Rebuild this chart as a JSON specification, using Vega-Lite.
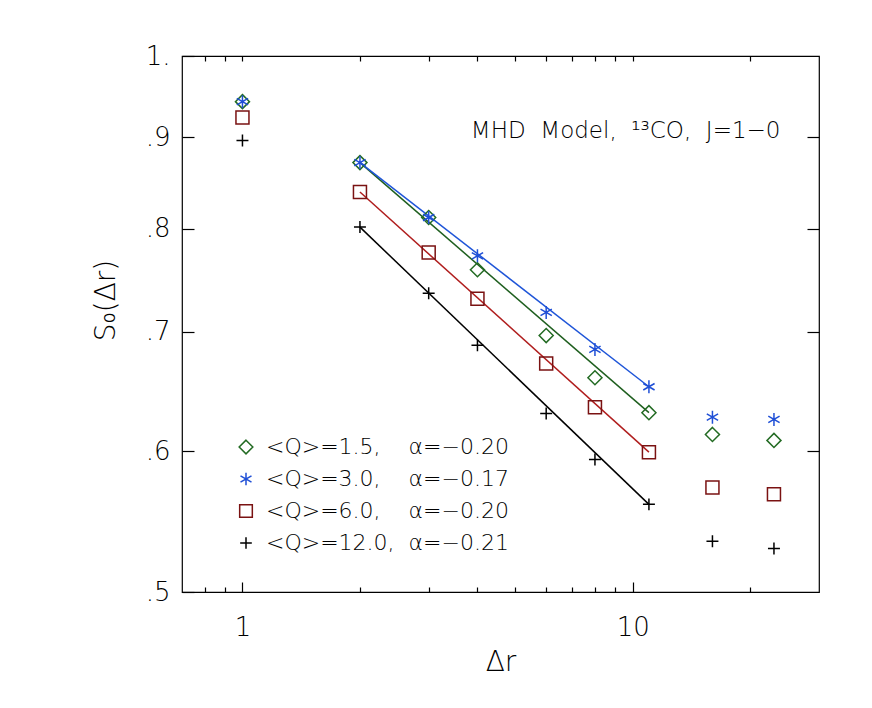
{
  "$schema": "https://vega.github.io/schema/vega-lite/v6.json",
  "autosize": "none",
  "width": 637,
  "height": 536,
  "padding": {"left": 182, "top": 56, "right": 53, "bottom": 116},
  "background": "white",
  "config": {
    "font": "DejaVu Sans",
    "view": {"stroke": "#000", "strokeWidth": 1.2},
    "axis": {"grid": false, "domain": false, "tickColor": "#000", "labelColor": "#000", "titleColor": "#000", "tickWidth": 1.2, "labelFont": "DejaVu Sans", "titleFont": "DejaVu Sans", "titleFontWeight": 200, "labelFontWeight": 200}
  },
  "datasets": {
    "points": [
      {"series": "<Q>=1.5,\u00a0\u00a0\u00a0\u00a0α=−0.20", "dr": 1, "s": 0.9427},
      {"series": "<Q>=1.5,\u00a0\u00a0\u00a0\u00a0α=−0.20", "dr": 2, "s": 0.8712},
      {"series": "<Q>=1.5,\u00a0\u00a0\u00a0\u00a0α=−0.20", "dr": 3, "s": 0.8115},
      {"series": "<Q>=1.5,\u00a0\u00a0\u00a0\u00a0α=−0.20", "dr": 4, "s": 0.7585},
      {"series": "<Q>=1.5,\u00a0\u00a0\u00a0\u00a0α=−0.20", "dr": 6, "s": 0.6966},
      {"series": "<Q>=1.5,\u00a0\u00a0\u00a0\u00a0α=−0.20", "dr": 8, "s": 0.6596},
      {"series": "<Q>=1.5,\u00a0\u00a0\u00a0\u00a0α=−0.20", "dr": 11, "s": 0.6305},
      {"series": "<Q>=1.5,\u00a0\u00a0\u00a0\u00a0α=−0.20", "dr": 16, "s": 0.6130},
      {"series": "<Q>=1.5,\u00a0\u00a0\u00a0\u00a0α=−0.20", "dr": 23, "s": 0.6083},
      {"series": "<Q>=3.0,\u00a0\u00a0\u00a0\u00a0α=−0.17", "dr": 1, "s": 0.9427},
      {"series": "<Q>=3.0,\u00a0\u00a0\u00a0\u00a0α=−0.17", "dr": 2, "s": 0.8712},
      {"series": "<Q>=3.0,\u00a0\u00a0\u00a0\u00a0α=−0.17", "dr": 3, "s": 0.8115},
      {"series": "<Q>=3.0,\u00a0\u00a0\u00a0\u00a0α=−0.17", "dr": 4, "s": 0.7723},
      {"series": "<Q>=3.0,\u00a0\u00a0\u00a0\u00a0α=−0.17", "dr": 6, "s": 0.7178},
      {"series": "<Q>=3.0,\u00a0\u00a0\u00a0\u00a0α=−0.17", "dr": 8, "s": 0.6842},
      {"series": "<Q>=3.0,\u00a0\u00a0\u00a0\u00a0α=−0.17", "dr": 11, "s": 0.6520},
      {"series": "<Q>=3.0,\u00a0\u00a0\u00a0\u00a0α=−0.17", "dr": 16, "s": 0.6268},
      {"series": "<Q>=3.0,\u00a0\u00a0\u00a0\u00a0α=−0.17", "dr": 23, "s": 0.6250},
      {"series": "<Q>=6.0,\u00a0\u00a0\u00a0\u00a0α=−0.20", "dr": 1, "s": 0.9235},
      {"series": "<Q>=6.0,\u00a0\u00a0\u00a0\u00a0α=−0.20", "dr": 2, "s": 0.8387},
      {"series": "<Q>=6.0,\u00a0\u00a0\u00a0\u00a0α=−0.20", "dr": 3, "s": 0.7756},
      {"series": "<Q>=6.0,\u00a0\u00a0\u00a0\u00a0α=−0.20", "dr": 4, "s": 0.7306},
      {"series": "<Q>=6.0,\u00a0\u00a0\u00a0\u00a0α=−0.20", "dr": 6, "s": 0.6718},
      {"series": "<Q>=6.0,\u00a0\u00a0\u00a0\u00a0α=−0.20", "dr": 8, "s": 0.6350},
      {"series": "<Q>=6.0,\u00a0\u00a0\u00a0\u00a0α=−0.20", "dr": 11, "s": 0.5991},
      {"series": "<Q>=6.0,\u00a0\u00a0\u00a0\u00a0α=−0.20", "dr": 16, "s": 0.5723},
      {"series": "<Q>=6.0,\u00a0\u00a0\u00a0\u00a0α=−0.20", "dr": 23, "s": 0.5673},
      {"series": "<Q>=12.0,\u00a0\u00a0α=−0.21", "dr": 1, "s": 0.8965},
      {"series": "<Q>=12.0,\u00a0\u00a0α=−0.21", "dr": 2, "s": 0.8015},
      {"series": "<Q>=12.0,\u00a0\u00a0α=−0.21", "dr": 3, "s": 0.7357},
      {"series": "<Q>=12.0,\u00a0\u00a0α=−0.21", "dr": 4, "s": 0.6880},
      {"series": "<Q>=12.0,\u00a0\u00a0α=−0.21", "dr": 6, "s": 0.6299},
      {"series": "<Q>=12.0,\u00a0\u00a0α=−0.21", "dr": 8, "s": 0.5934},
      {"series": "<Q>=12.0,\u00a0\u00a0α=−0.21", "dr": 11, "s": 0.5600},
      {"series": "<Q>=12.0,\u00a0\u00a0α=−0.21", "dr": 16, "s": 0.5339},
      {"series": "<Q>=12.0,\u00a0\u00a0α=−0.21", "dr": 23, "s": 0.5289}
    ],
    "fits": [
      {"series": "<Q>=1.5,\u00a0\u00a0\u00a0\u00a0α=−0.20", "dr": 2, "s": 0.8712},
      {"series": "<Q>=1.5,\u00a0\u00a0\u00a0\u00a0α=−0.20", "dr": 11, "s": 0.6305},
      {"series": "<Q>=3.0,\u00a0\u00a0\u00a0\u00a0α=−0.17", "dr": 2, "s": 0.8712},
      {"series": "<Q>=3.0,\u00a0\u00a0\u00a0\u00a0α=−0.17", "dr": 11, "s": 0.6520},
      {"series": "<Q>=6.0,\u00a0\u00a0\u00a0\u00a0α=−0.20", "dr": 2, "s": 0.8387},
      {"series": "<Q>=6.0,\u00a0\u00a0\u00a0\u00a0α=−0.20", "dr": 11, "s": 0.5991},
      {"series": "<Q>=12.0,\u00a0\u00a0α=−0.21", "dr": 2, "s": 0.8015},
      {"series": "<Q>=12.0,\u00a0\u00a0α=−0.21", "dr": 11, "s": 0.5600}
    ]
  },
  "layer": [
    {
      "data": {"name": "fits"},
      "mark": {"type": "line", "strokeWidth": 1.5},
      "encoding": {
        "x": {"field": "dr", "type": "quantitative",
              "scale": {"type": "log", "domain": [0.7, 30], "nice": false},
              "axis": {"orient": "bottom", "values": [0.8, 0.9, 2, 3, 4, 5, 6, 7, 8, 9, 20], "tickSize": -5, "labels": false, "title": null}},
        "y": {"field": "s", "type": "quantitative",
              "scale": {"type": "log", "domain": [0.5, 1.0], "nice": false},
              "axis": {"orient": "right", "values": [0.6, 0.7, 0.8, 0.9], "tickSize": -12, "labels": false, "title": null}},
        "color": {"field": "series", "type": "nominal",
                  "scale": {"domain": ["<Q>=1.5,\u00a0\u00a0\u00a0\u00a0α=−0.20", "<Q>=3.0,\u00a0\u00a0\u00a0\u00a0α=−0.17", "<Q>=6.0,\u00a0\u00a0\u00a0\u00a0α=−0.20", "<Q>=12.0,\u00a0\u00a0α=−0.21"],
                            "range": ["#1f5f1f", "#1f55d8", "#b01e1e", "#000000"]},
                  "legend": null}
      }
    },
    {
      "layer": [
        {
          "data": {"name": "points"},
          "mark": {"type": "point", "filled": false, "opacity": 1, "size": 169, "strokeWidth": 1.5},
          "encoding": {
            "x": {"field": "dr", "type": "quantitative",
                  "axis": {"orient": "bottom", "values": [1, 10], "tickSize": -10, "labelFontSize": 26, "labelPadding": 32, "labelExpr": "datum.value == 1 ? '1' : '10'", "title": "Δr", "titleFontSize": 28, "titlePadding": 8}},
            "y": {"field": "s", "type": "quantitative",
                  "axis": {"orient": "left", "values": [0.5, 0.6, 0.7, 0.8, 0.9, 1.0], "tickSize": -12, "labelFontSize": 26, "labelPadding": 24, "labelExpr": "datum.value == 1 ? '1.' : replace(format(datum.value, '.1f'), '0.', '.')", "title": "S₀(Δr)", "titleFontSize": 28, "titlePadding": 25, "titleY": 244}},
            "color": {"field": "series", "type": "nominal",
                      "scale": {"domain": ["<Q>=1.5,\u00a0\u00a0\u00a0\u00a0α=−0.20", "<Q>=3.0,\u00a0\u00a0\u00a0\u00a0α=−0.17", "<Q>=6.0,\u00a0\u00a0\u00a0\u00a0α=−0.20", "<Q>=12.0,\u00a0\u00a0α=−0.21"],
                                "range": ["#236b23", "#1f4fd6", "#7a1212", "#000000"]},
                      "legend": {"orient": "none", "legendX": 53, "legendY": 380, "title": null, "padding": 0,
                                 "symbolSize": 160, "symbolStrokeWidth": 1.5, "symbolFillColor": "transparent",
                                 "labelFontSize": 22, "labelFont": "DejaVu Sans", "labelFontWeight": 200, "labelOffset": 9, "rowPadding": 10, "labelLimit": 400,
                                 "encode": {"labels": {"update": {"fill": {"signal": "indexof(datum.value, '1.5,') >= 0 ? '#236b23' : indexof(datum.value, '3.0,') >= 0 ? '#1f55d8' : indexof(datum.value, '6.0,') >= 0 ? '#b01e1e' : '#000000'"}}}}}},
            "shape": {"field": "series", "type": "nominal",
                      "scale": {"domain": ["<Q>=1.5,\u00a0\u00a0\u00a0\u00a0α=−0.20", "<Q>=3.0,\u00a0\u00a0\u00a0\u00a0α=−0.17", "<Q>=6.0,\u00a0\u00a0\u00a0\u00a0α=−0.20", "<Q>=12.0,\u00a0\u00a0α=−0.21"],
                                "range": ["M0,-1.08L1.08,0L0,1.08L-1.08,0Z", "M0,-1L0,1M-0.87,-0.5L0.87,0.5M-0.87,0.5L0.87,-0.5", "M-1,-1L1,-1L1,1L-1,1Z", "M-0.92,0L0.92,0M0,-0.92L0,0.92"]},
                      "legend": {"orient": "none", "legendX": 53, "legendY": 380, "title": null, "padding": 0,
                                 "symbolSize": 160, "symbolStrokeWidth": 1.5, "symbolFillColor": "transparent",
                                 "labelFontSize": 22, "labelFont": "DejaVu Sans", "labelFontWeight": 200, "labelOffset": 9, "rowPadding": 10, "labelLimit": 400}}
          }
        }
      ]
    },
    {
      "data": {"values": [{}]},
      "mark": {"type": "text", "align": "right", "baseline": "middle", "fontSize": 23, "font": "DejaVu Sans", "fontWeight": 200, "color": "#000"},
      "encoding": {
        "x": {"datum": 23.9, "type": "quantitative",
              "axis": {"orient": "top", "values": [0.8, 0.9, 1, 2, 3, 4, 5, 6, 7, 8, 9, 10, 20], "tickSize": -5, "labels": false, "title": null}},
        "y": {"datum": 0.907, "type": "quantitative", "axis": null},
        "text": {"value": "MHD\u00a0\u00a0Model,\u00a0\u00a0¹³CO,\u00a0\u00a0J=1−0"}
      }
    }
  ],
  "resolve": {"axis": {"x": "independent", "y": "independent"}, "scale": {"color": "independent"}, "legend": {"color": "independent", "shape": "independent"}}
}
